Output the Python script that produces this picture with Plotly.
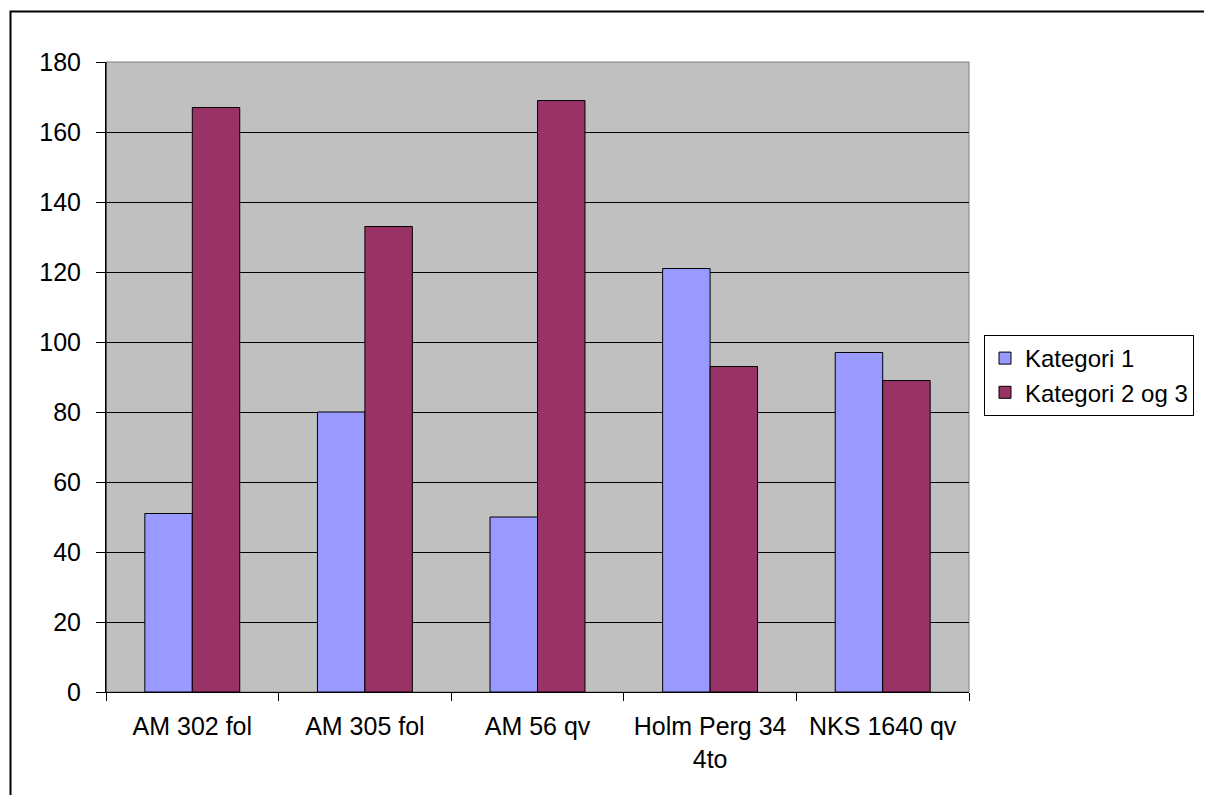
import plotly.graph_objects as go

categories = ["AM 302 fol", "AM 305 fol", "AM 56 qv", "Holm Perg 34<br>4to", "NKS 1640 qv"]
kategori_1 = [51, 80, 50, 121, 97]
kategori_2_og_3 = [167, 133, 169, 93, 89]
y_ticks = [0, 20, 40, 60, 80, 100, 120, 140, 160, 180]

# page body has an 8px margin, so figure coordinates are page coordinates - 8
W, H = 1196, 787
L, T = 98, 54
pw, ph = 863, 630
R, B = W - L - pw, H - T - ph
bottom = T + ph  # figure y of the plot bottom

fig = go.Figure()
fig.add_trace(go.Bar(name="Kategori 1", x=categories, y=kategori_1,
                     marker=dict(color="#9999FF", line=dict(color="black", width=1))))
fig.add_trace(go.Bar(name="Kategori 2 og 3", x=categories, y=kategori_2_og_3,
                     marker=dict(color="#993366", line=dict(color="black", width=1))))

font = dict(family="Liberation Sans, Arial, sans-serif", size=25, color="black")
legend_font = dict(family="Liberation Sans, Arial, sans-serif", size=24, color="black")

fig.update_layout(
    width=W, height=H,
    margin=dict(l=L, r=R, t=T, b=B, pad=0, autoexpand=False),
    paper_bgcolor="white", plot_bgcolor="#C0C0C0",
    barmode="group", bargap=0.45, bargroupgap=0.0,
    font=font,
    showlegend=True,
    legend=dict(x=(976 - L) / pw, y=(bottom - 327) / ph, xanchor="left", yanchor="top",
                bgcolor="white", bordercolor="black", borderwidth=1,
                font=legend_font, itemwidth=30, tracegroupgap=0),
    xaxis=dict(showline=True, linecolor="black", linewidth=1, ticks="outside",
               tickson="boundaries", ticklen=8, tickcolor="black", showgrid=False,
               tickfont=font, ticklabelstandoff=12, fixedrange=True),
    yaxis=dict(range=[0, 180], tickvals=y_ticks, showline=True, linecolor="black", linewidth=1,
               ticks="outside", ticklen=9, tickcolor="black", showgrid=True,
               gridcolor="black", gridwidth=1, zeroline=False, tickfont=font,
               ticklabelstandoff=10, fixedrange=True),
    shapes=[
        dict(type="rect", xref="paper", yref="paper", x0=0, x1=1, y0=0, y1=1,
             line=dict(color="#808080", width=1), layer="below"),
        dict(type="line", xref="paper", yref="paper", x0=0, x1=0, y0=0, y1=1,
             line=dict(color="black", width=1)),
        dict(type="rect", xref="paper", yref="paper",
             x0=(2.5 - L) / pw, x1=(1220 - L) / pw, y0=(bottom - 820) / ph, y1=(bottom - 3.5) / ph,
             line=dict(color="black", width=2)),
    ],
)

fig.write_html("out.html")
